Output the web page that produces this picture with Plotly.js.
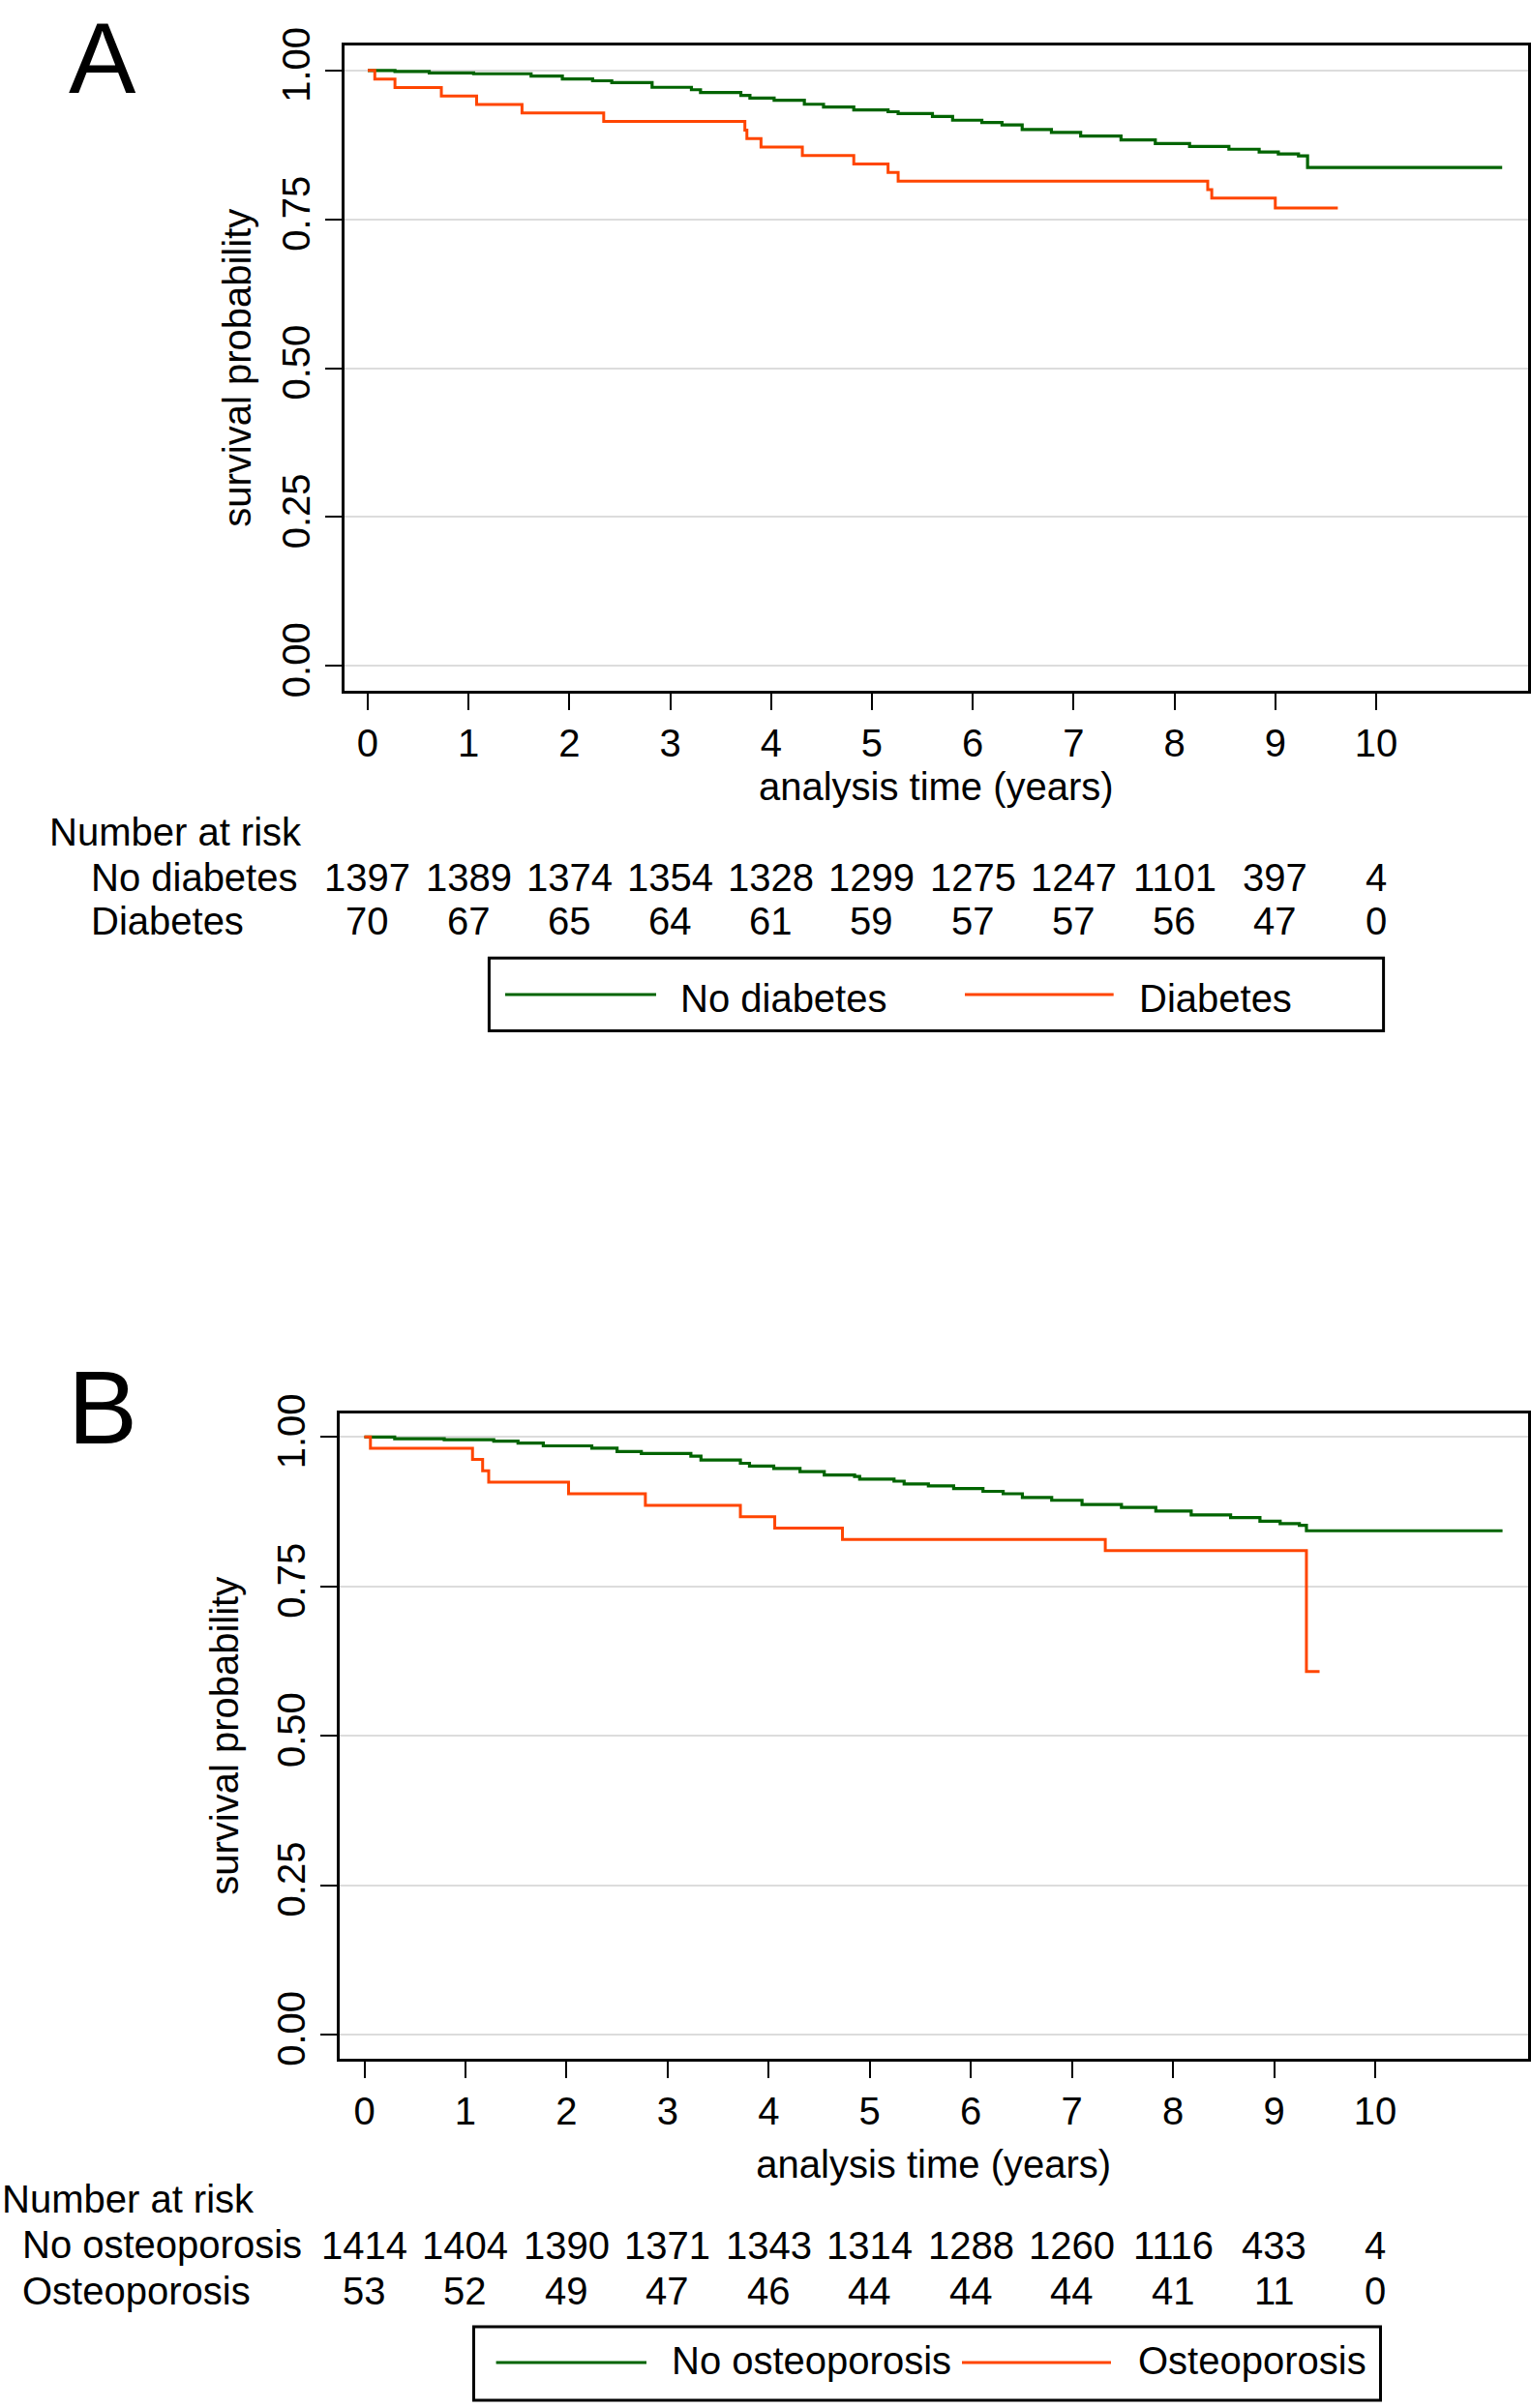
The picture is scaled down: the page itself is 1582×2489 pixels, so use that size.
<!DOCTYPE html>
<html><head><meta charset="utf-8">
<script src="https://cdn.plot.ly/plotly-3.0.1.min.js"></script>
<style>html,body{margin:0;padding:0;background:#fff}#chart{width:1582px;height:2489px}</style>
</head><body><div id="chart"></div>
<script>
const W = 1582, H = 2489;

// ---- shared axis labels ----
const timeTicks = [0, 1, 2, 3, 4, 5, 6, 7, 8, 9, 10];
const yTickVals = [0, 0.25, 0.5, 0.75, 1];
const yTickText = ['0.00', '0.25', '0.50', '0.75', '1.00'];

// ---- Panel A: diabetes ----
const noDiabTime = [0, 0.27, 0.61, 1.05, 1.62, 1.93, 2.23, 2.42, 2.82, 3.21, 3.30, 3.70, 3.79, 4.03, 4.33, 4.52, 4.82, 5.16, 5.26, 5.60, 5.80, 6.09, 6.29, 6.49, 6.78, 7.07, 7.47, 7.81, 8.15, 8.54, 8.84, 9.03, 9.23, 9.32, 11.25];
const noDiabSurv = [1.0, 0.9984, 0.996, 0.9945, 0.9906, 0.9858, 0.9827, 0.9795, 0.9717, 0.9677, 0.963, 0.958, 0.9535, 0.950, 0.9433, 0.9386, 0.9339, 0.9307, 0.9276, 0.9228, 0.9165, 0.9126, 0.9087, 0.9008, 0.8961, 0.8898, 0.8835, 0.8772, 0.8724, 0.8677, 0.863, 0.8598, 0.8567, 0.837, 0.837];
const diabTime = [0, 0.07, 0.27, 0.73, 1.08, 1.53, 2.34, 3.74, 3.76, 3.90, 4.31, 4.82, 5.16, 5.26, 8.33, 8.37, 9.00, 9.62];
const diabSurv = [1.0, 0.9857, 0.9714, 0.9571, 0.9429, 0.9286, 0.9143, 0.900, 0.8857, 0.8714, 0.8571, 0.8429, 0.8286, 0.8143, 0.800, 0.7857, 0.769, 0.769];
const riskRowLabelsA = ['No diabetes', 'Diabetes'];
const riskNoDiab = [1397, 1389, 1374, 1354, 1328, 1299, 1275, 1247, 1101, 397, 4];
const riskDiab = [70, 67, 65, 64, 61, 59, 57, 57, 56, 47, 0];

// ---- Panel B: osteoporosis ----
const noOstTime = [0, 0.30, 0.79, 1.28, 1.52, 1.77, 2.25, 2.50, 2.74, 3.23, 3.33, 3.72, 3.81, 4.05, 4.31, 4.55, 4.85, 4.90, 5.24, 5.34, 5.58, 5.83, 6.12, 6.32, 6.51, 6.80, 7.10, 7.49, 7.83, 8.18, 8.57, 8.86, 9.06, 9.25, 9.32, 11.26];
const noOstSurv = [1.0, 0.9969, 0.9953, 0.9929, 0.9898, 0.9851, 0.9812, 0.9757, 0.9725, 0.9678, 0.9615, 0.956, 0.9513, 0.9474, 0.9419, 0.9364, 0.934, 0.9294, 0.926, 0.9215, 0.918, 0.9137, 0.909, 0.905, 0.8987, 0.894, 0.887, 0.882, 0.876, 0.8697, 0.865, 0.859, 0.855, 0.852, 0.843, 0.843];
const ostTime = [0, 0.06, 1.07, 1.17, 1.23, 2.02, 2.78, 3.72, 4.06, 4.73, 7.33, 9.32, 9.45];
const ostSurv = [1.0, 0.9811, 0.9623, 0.9434, 0.9245, 0.9049, 0.8856, 0.8664, 0.8475, 0.8286, 0.8098, 0.6074, 0.6074];
const riskRowLabelsB = ['No osteoporosis', 'Osteoporosis'];
const riskNoOst = [1414, 1404, 1390, 1371, 1343, 1314, 1288, 1260, 1116, 433, 4];
const riskOst = [53, 52, 49, 47, 46, 44, 44, 44, 41, 11, 0];

// ---- styling ----
const GREEN = '#006400', ORANGE = '#FF4500';
const FONT = 'Liberation Sans, Arial, Helvetica, sans-serif';
const px = x => x / W;
const py = y => 1 - y / H;

function xAxis(domain, range, anchor, standoff) {
  return {
    domain: domain, range: range, anchor: anchor,
    tickmode: 'array', tickvals: timeTicks, ticktext: timeTicks.map(String),
    ticks: 'outside', ticklen: 17, tickwidth: 2, tickcolor: '#000',
    showline: true, linewidth: 3, linecolor: '#000', mirror: true,
    showgrid: false, zeroline: false, automargin: false,
    tickfont: {size: 40, color: '#000', family: FONT},
    title: {text: 'analysis time (years)', font: {size: 40, color: '#000', family: FONT}, standoff: standoff},
    fixedrange: true
  };
}
function yAxis(domain, range, anchor, standoff) {
  return {
    domain: domain, range: range, anchor: anchor,
    tickmode: 'array', tickvals: yTickVals, ticktext: yTickText, tickangle: -90,
    ticks: 'outside', ticklen: 17, tickwidth: 2, tickcolor: '#000',
    showline: true, linewidth: 3, linecolor: '#000', mirror: true,
    showgrid: true, gridcolor: '#dcdcdc', gridwidth: 2, zeroline: false, automargin: false,
    tickfont: {size: 40, color: '#000', family: FONT},
    title: {text: 'survival probability', font: {size: 40, color: '#000', family: FONT}, standoff: standoff},
    fixedrange: true
  };
}

const traces = [
  {x: noDiabTime, y: noDiabSurv, xaxis: 'x', yaxis: 'y', type: 'scatter', mode: 'lines', line: {shape: 'hv', color: GREEN, width: 3.2}, name: 'No diabetes', showlegend: false},
  {x: diabTime, y: diabSurv, xaxis: 'x', yaxis: 'y', type: 'scatter', mode: 'lines', line: {shape: 'hv', color: ORANGE, width: 3}, name: 'Diabetes', showlegend: false},
  {x: noOstTime, y: noOstSurv, xaxis: 'x2', yaxis: 'y2', type: 'scatter', mode: 'lines', line: {shape: 'hv', color: GREEN, width: 3.2}, name: 'No osteoporosis', showlegend: false},
  {x: ostTime, y: ostSurv, xaxis: 'x2', yaxis: 'y2', type: 'scatter', mode: 'lines', line: {shape: 'hv', color: ORANGE, width: 3}, name: 'Osteoporosis', showlegend: false}
];

const annotations = [];
const shapes = [];
function txt(text, x, y, xanchor, size, xref, yanchor) {
  annotations.push({text: text, x: x, y: y, xref: xref || 'paper', yref: 'paper',
    xanchor: xanchor, yanchor: yanchor || 'middle', showarrow: false,
    font: {size: size || 40, color: '#000', family: FONT}});
}

// Panel A decorations
txt('A', px(106), 1, 'center', 104, 'paper', 'top');
txt('Number at risk', px(49), py(859.6), 'left');
txt(riskRowLabelsA[0], px(92), py(906.7), 'left');
txt(riskRowLabelsA[1], px(92), py(952.4), 'left');
timeTicks.forEach((t, i) => {
  txt(String(riskNoDiab[i]), t, py(906.7), 'center', 40, 'x');
  txt(String(riskDiab[i]), t, py(952.4), 'center', 40, 'x');
});
shapes.push({type: 'rect', xref: 'paper', yref: 'paper', x0: px(505.4), x1: px(1429.6), y0: py(1065.5), y1: py(990.2), line: {color: '#000', width: 3}});
shapes.push({type: 'line', xref: 'paper', yref: 'paper', x0: px(522), x1: px(678), y0: py(1028), y1: py(1028), line: {color: GREEN, width: 3.2}});
shapes.push({type: 'line', xref: 'paper', yref: 'paper', x0: px(997), x1: px(1150.7), y0: py(1028), y1: py(1028), line: {color: ORANGE, width: 3}});
txt('No diabetes', px(701), py(1031.7), 'left');
txt('Diabetes', px(1175), py(1031.7), 'left');

// Panel B decorations
txt('B', px(106), py(1455), 'center', 108);
txt('Number at risk', px(0), py(2273), 'left');
txt(riskRowLabelsB[0], px(21), py(2319.5), 'left');
txt(riskRowLabelsB[1], px(21), py(2367.5), 'left');
timeTicks.forEach((t, i) => {
  txt(String(riskNoOst[i]), t, py(2320.5), 'center', 40, 'x2');
  txt(String(riskOst[i]), t, py(2368), 'center', 40, 'x2');
});
shapes.push({type: 'rect', xref: 'paper', yref: 'paper', x0: px(489.5), x1: px(1426.5), y0: py(2481), y1: py(2405), line: {color: '#000', width: 3}});
shapes.push({type: 'line', xref: 'paper', yref: 'paper', x0: px(512.6), x1: px(668), y0: py(2442), y1: py(2442), line: {color: GREEN, width: 3.2}});
shapes.push({type: 'line', xref: 'paper', yref: 'paper', x0: px(994), x1: px(1148), y0: py(2442), y1: py(2442), line: {color: ORANGE, width: 3}});
txt('No osteoporosis', px(692), py(2440), 'left');
txt('Osteoporosis', px(1174), py(2440), 'left');

const layout = {
  width: W, height: H,
  margin: {l: 0, r: 0, t: 0, b: 0, pad: 0},
  paper_bgcolor: '#fff', plot_bgcolor: '#fff',
  font: {family: FONT, size: 40, color: '#000'},
  showlegend: false,
  xaxis: xAxis([355.6 / W, 1579 / W], [-0.234, 11.507], 'y', 11),
  yaxis: yAxis([1 - 713.5 / H, 1 - 47 / H], [-0.041, 1.042], 'x', 12),
  xaxis2: xAxis([350.5 / W, 1579 / W], [-0.249, 11.513], 'y2', 20),
  yaxis2: yAxis([1 - 2128 / H, 1 - 1460.6 / H], [-0.0406, 1.040], 'x2', 20),
  annotations: annotations,
  shapes: shapes
};

Plotly.newPlot('chart', traces, layout, {staticPlot: true, displayModeBar: false});
</script>
</body></html>
